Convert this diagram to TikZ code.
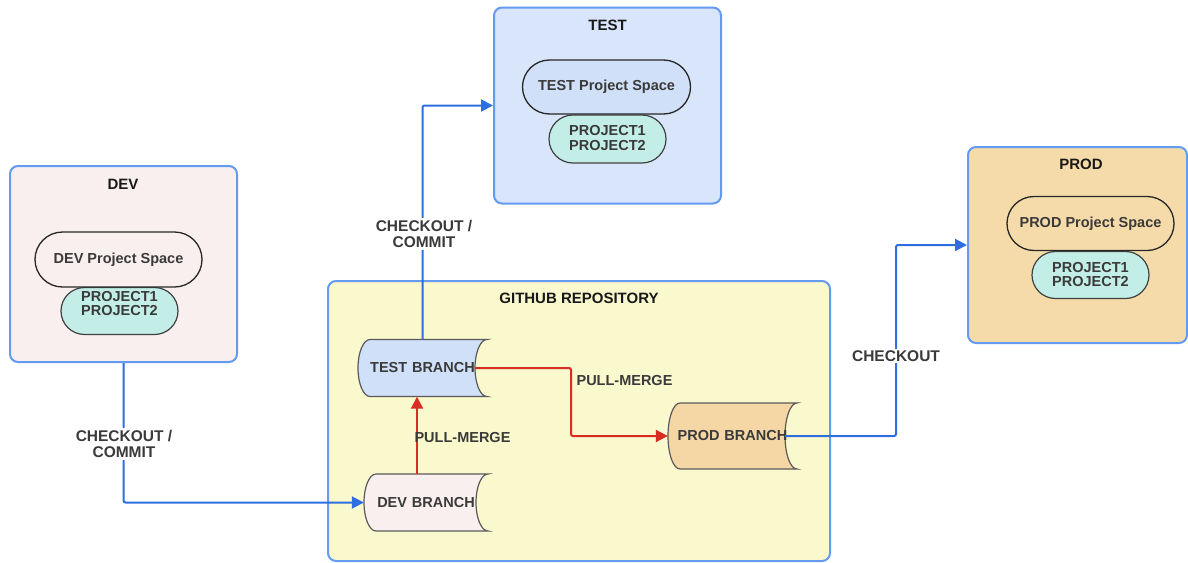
\documentclass[tikz,border=0pt]{standalone}
\usepackage{fontspec}
\setmainfont{Liberation Sans}
\usetikzlibrary{arrows.meta,shapes.misc,calc}
\definecolor{boxblue}{RGB}{100,155,240}
\definecolor{lineblue}{RGB}{45,110,225}
\definecolor{linered}{RGB}{215,45,35}
\definecolor{devfill}{RGB}{249,239,238}
\definecolor{testfill}{RGB}{216,229,250}
\definecolor{testbr}{RGB}{208,224,248}
\definecolor{prodfill}{RGB}{246,219,170}
\definecolor{prodbr}{RGB}{245,215,166}
\definecolor{gitfill}{RGB}{250,248,205}
\definecolor{projfill}{RGB}{195,238,231}
\definecolor{txtgray}{RGB}{58,58,58}
\definecolor{brgray}{RGB}{90,90,90}
\tikzset{
  envbox/.style={draw=boxblue, line width=2pt, rounded corners=8pt, inner sep=0pt},
  boxtitle/.style={font=\fontsize{15}{16}\selectfont\bfseries, text=black!90, inner sep=0pt},
  spacebox/.style={rounded rectangle, draw=black!85, line width=1.3pt, minimum width=167pt, minimum height=55pt, inner sep=0pt, font=\fontsize{14.5}{15}\selectfont\bfseries, text=txtgray},
  projshape/.style={rounded rectangle, draw=black!75, line width=1.2pt, fill=projfill, minimum width=117pt, minimum height=47pt, inner sep=0pt},
  projtext/.style={align=center, font=\fontsize{14.5}{14.5}\selectfont\bfseries, text=txtgray, inner sep=0pt},
  brtext/.style={inner sep=0pt, font=\fontsize{14.5}{15}\selectfont\bfseries, text=txtgray},
  brline/.style={draw=brgray, line width=1.2pt},
  conn/.style={line width=2pt, rounded corners=2pt, -{Triangle[length=12pt,width=12pt]}},
  lbl/.style={font=\fontsize{15.5}{16}\selectfont\bfseries, text=txtgray, align=center, fill=white, inner sep=2pt},
  lblplain/.style={font=\fontsize{14.5}{16}\selectfont\bfseries, text=txtgray, align=center, inner sep=0pt},
}
\newcommand{\brnode}[7]{%
  \pgfmathsetmacro\bl{#2-#4/2}\pgfmathsetmacro\br{#2+#4/2}%
  \pgfmathsetmacro\bt{#3-#5/2}\pgfmathsetmacro\bb{#3+#5/2}%
  \pgfmathsetmacro\ky{#5/2*0.5523}%
  \path[brline, fill=#6] ({\bl+12},\bt) -- (\br,\bt)
    .. controls ({\br-6.63},\bt) and ({\br-12},{#3-\ky}) .. ({\br-12},#3)
    .. controls ({\br-12},{#3+\ky}) and ({\br-6.63},\bb) .. (\br,\bb)
    -- ({\bl+12},\bb)
    .. controls ({\bl+12-6.63},\bb) and (\bl,{#3+\ky}) .. (\bl,#3)
    .. controls (\bl,{#3-\ky}) and ({\bl+12-6.63},\bt) .. ({\bl+12},\bt) -- cycle;
  \node[brtext, minimum width=#4pt, minimum height=#5pt, text width={#4pt-8pt}, align=center, xshift=-4pt] (#1) at ({#2+4},#3) {#7};
}
\begin{document}
\begin{tikzpicture}[x=1pt,y=-1pt]
\useasboundingbox (0,0) rectangle (1188,562);
% environment boxes
\node[envbox, fill=devfill, minimum width=227pt, minimum height=196pt] (devbox) at (123.5,264) {};
\node[envbox, fill=testfill, minimum width=227pt, minimum height=196pt] (testbox) at (607.5,105.5) {};
\node[envbox, fill=prodfill, minimum width=219pt, minimum height=196pt] (prodbox) at (1077.5,245) {};
\node[envbox, fill=gitfill, minimum width=502pt, minimum height=280pt] (gitbox) at (579,421) {};
% titles
\node[boxtitle] (devtitle) at (123,184) {DEV};
\node[boxtitle] (testtitle) at (607.5,25) {TEST};
\node[boxtitle] (prodtitle) at (1081,164) {PROD};
\node[boxtitle] (gittitle) at (579,298) {GITHUB REPOSITORY};
% project shapes
\node[projshape] (devproj) at (119.5,311) {};
\node[projshape, minimum height=48pt] (testproj) at (607.5,139) {};
\node[projshape] (prodproj) at (1090.5,275) {};
\node[spacebox, fill=devfill] (devspace) at (118.5,259.5) {DEV Project Space};
\node[spacebox, fill=testbr, minimum width=168pt, minimum height=54pt] (testspace) at (606.5,87) {TEST Project Space};
\node[spacebox, fill=prodfill, minimum height=54pt] (prodspace) at (1090.5,223.5) {PROD Project Space};
\node[projtext] (devprojtext) at (119.5,303.5) {PROJECT1\\PROJECT2};
\node[projtext] (testprojtext) at (607.5,138) {PROJECT1\\PROJECT2};
\node[projtext] (prodprojtext) at (1090.5,274.5) {PROJECT1\\PROJECT2};
% branches
\brnode{tb}{422.5}{368}{129}{57}{testbr}{TEST BRANCH}
\brnode{db}{426}{502.5}{124}{57}{devfill}{DEV BRANCH}
\brnode{pb}{732.5}{436}{129}{66}{prodbr}{PROD BRANCH}
% knees
\coordinate (redknee) at (571,436);
\coordinate (blueknee) at (896,340);
% connectors
\draw[conn, lineblue] (devbox.south) |- (db.west);
\draw[conn, lineblue] (tb.north) |- (testbox.west);
\draw[conn, linered] ([xshift=-12pt]tb.east) -| (redknee) -- (pb.west);
\draw[conn, linered] ([xshift=-9pt]db.north) -- ([xshift=-9pt]db.north |- tb.south);
\draw[conn, lineblue] ([xshift=-12pt]pb.east) -| (blueknee) |- (prodbox.west);
% labels
\node[lbl] (lbldev) at (124,444) {CHECKOUT /\\COMMIT};
\node[lbl] (lbltest) at (424,234) {CHECKOUT /\\COMMIT};
\node[lbl] (lblprod) at (896,356) {CHECKOUT};
\node[lblplain] (lblpm1) at (624.5,381) {PULL-MERGE};
\node[lblplain] (lblpm2) at (462.5,438) {PULL-MERGE};
\end{tikzpicture}
\end{document}
